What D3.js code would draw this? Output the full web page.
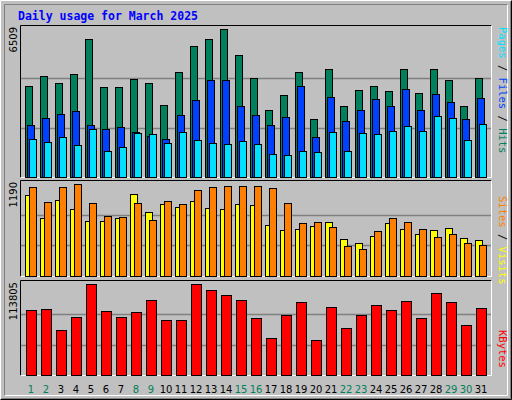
<!DOCTYPE html><html><head><meta charset="utf-8">
<script src="https://cdn.jsdelivr.net/npm/d3@7"></script>
<style>body{margin:0;background:#fff}</style></head><body><svg id="c" width="512" height="400"></svg>
<script>
const days = d3.range(1,32);
const weekend = [1,2,8,9,15,16,22,23,29,30];
const hits = [3991,4432,4123,4521,6067,3947,3947,4300,4123,3151,4609,5758,6067,6509,5360,4344,2930,3593,4609,2533,4742,3107,3814,3991,3770,4742,3681,4742,4256,3107,4344];
const files = [2268,2577,2754,2886,2268,2091,2179,1959,1782,1693,2710,3372,4256,4256,3107,2710,2268,2621,3991,1738,3505,2444,2930,3416,3107,3858,2930,3637,3284,2533,3461];
const pages = [1693,1561,1738,1428,2091,1163,1340,1914,1870,1517,1959,1649,1517,1473,1605,1473,1031,987,1163,1119,1959,1163,1914,1870,2003,2224,2003,2665,2577,1649,2312];
const visits = [1047,749,982,865,710,710,749,1060,827,930,891,969,878,865,930,917,658,593,606,645,697,476,424,515,684,606,541,593,619,489,463];
const sites = [1151,956,1151,1190,943,775,762,943,723,969,930,1112,1151,1164,1164,1164,1138,943,684,697,632,385,346,580,749,697,606,502,541,424,398];
const kbytes = [81290,82540,56277,72535,113805,80039,72535,78788,93795,68783,68783,113805,106300,100047,93795,71284,46272,75036,91294,43771,85041,58778,75036,87542,81290,92545,71284,102548,91294,62530,83790];
const maxLabels = ["6509","1190","113805"];

const svg = d3.select("#c");
// outer frame
svg.append("rect").attr("x",0).attr("y",0).attr("width",512).attr("height",400).attr("fill","#c0c0c0");
svg.append("path").attr("d","M0.5,399.5V0.5H511.5").attr("stroke","#fff").attr("fill","none");
svg.append("path").attr("d","M1.5,398.5H510.5V1.5").attr("stroke","#808080").attr("fill","none");
svg.append("path").attr("d","M0.5,399.5H511.5V0.5").attr("stroke","#000").attr("fill","none");
svg.append("path").attr("d","M4.5,395.5H507.5V4.5").attr("stroke","#fff").attr("fill","none");
svg.append("path").attr("d","M4.5,395.5V4.5H507.5").attr("stroke","#808080").attr("fill","none");

svg.append("text").attr("x",18).attr("y",20).text("Daily usage for March 2025")
  .attr("font-family","DejaVu Sans Mono").attr("font-weight","bold").attr("font-size",11.5).attr("fill","#0000ff");

const x = d3.scaleBand().domain(days).range([20,485]).paddingInner(0);
const x0 = d => 25 + (d-1)*15;

const panels = [
 {top:25,bot:177,max:6509},
 {top:180,bot:276,max:1190},
 {top:280,bot:375,max:113805}
];
panels.forEach((p,i)=>{
  p.y = d3.scaleLinear().domain([0,p.max]).range([p.bot,p.top+4]);
  svg.append("path").attr("d",`M20.5,${p.bot+0.5}V${p.top+0.5}H491.5`).attr("stroke","#000").attr("fill","none");
  svg.append("path").attr("d",`M20.5,${p.bot+0.5}H491.5V${p.top+0.5}`).attr("stroke","#fff").attr("fill","none");
  [1/3,2/3].forEach(f=>{
    const yy=Math.round(p.y(p.max*f))+0.5;
    svg.append("line").attr("x1",21).attr("x2",491).attr("y1",yy).attr("y2",yy).attr("stroke","#808080").attr("stroke-width",1.5);
  });
  svg.append("text").attr("transform",`translate(17,${p.top+2}) rotate(-90)`).attr("text-anchor","end")
    .attr("font-family","DejaVu Sans").attr("font-size",10).attr("fill","#000").text(maxLabels[i]);
});

function bars(data,p,off,w,color){
  svg.append("g").selectAll("rect").data(data).join("rect")
   .attr("x",(v,i)=>x0(days[i])+off+0.5).attr("width",w)
   .attr("y",v=>Math.round(p.y(v))+0.5).attr("height",v=>p.bot-Math.round(p.y(v)))
   .attr("fill",color).attr("stroke","#000").attr("stroke-width",1);
}
bars(hits,panels[0],0,7,"#00805c");
bars(files,panels[0],2,7,"#0040ff");
bars(pages,panels[0],4,7,"#00e0ff");
bars(visits,panels[1],0,7,"#ffff00");
bars(sites,panels[1],4,7,"#ff8000");
bars(kbytes,panels[2],1,10,"#ff0000");

svg.append("g").selectAll("text").data(days).join("text")
  .attr("x",d=>x0(d)+6).attr("y",393).attr("text-anchor","middle")
  .attr("font-family","DejaVu Sans").attr("font-size",10)
  .attr("fill",d=>weekend.includes(d)?"#00805c":"#000").text(d=>d);

function rlabel(yStart,parts){
  const t=svg.append("text").attr("transform",`translate(499,${yStart}) rotate(90)`)
   .attr("font-family","DejaVu Sans Mono").attr("font-size",10.5);
  parts.forEach(([s,c])=>t.append("tspan").attr("fill",c).text(s));
}
rlabel(27,[["Pages","#00e0ff"],[" / ","#000"],["Files","#0040ff"],[" / ","#000"],["Hits","#00805c"]].reverse().map(a=>a).reverse());
rlabel(196,[["Sites","#ff8000"],[" / ","#000"],["Visits","#ffff00"]]);
rlabel(330,[["KBytes","#ff0000"]]);
</script></body></html>
